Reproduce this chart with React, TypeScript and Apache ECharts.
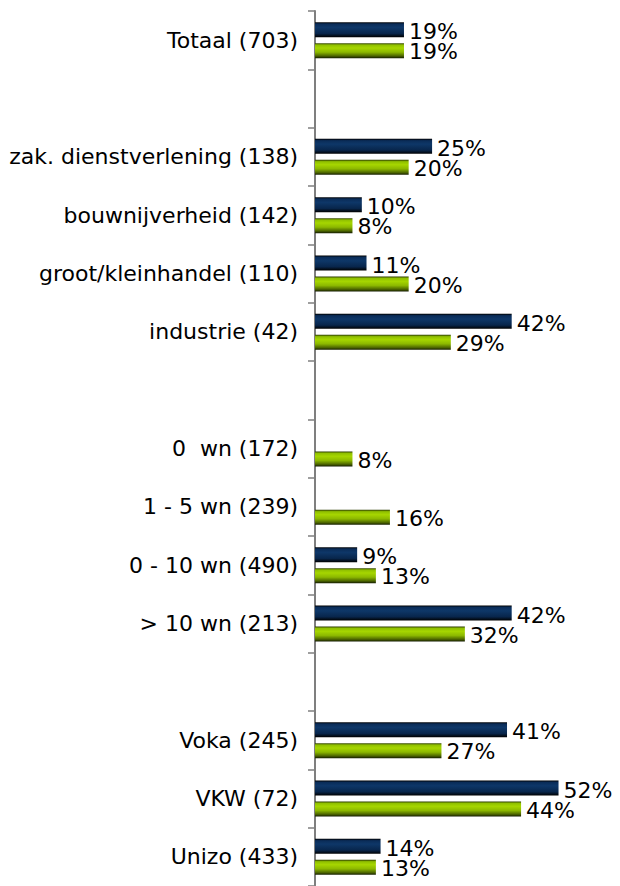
import React, { useEffect, useRef } from "react";
import * as echarts from "echarts";

const categories = [
  "Totaal (703)",
  "",
  "zak. dienstverlening (138)",
  "bouwnijverheid (142)",
  "groot/kleinhandel (110)",
  "industrie (42)",
  "",
  "0  wn (172)",
  "1 - 5 wn (239)",
  "0 - 10 wn (490)",
  "> 10 wn (213)",
  "",
  "Voka (245)",
  "VKW (72)",
  "Unizo (433)",
];

const blueValues: (number | null)[] = [19, null, 25, 10, 11, 42, null, null, null, 9, 42, null, 41, 52, 14];
const greenValues: (number | null)[] = [19, null, 20, 8, 20, 29, null, 8, 16, 13, 32, null, 27, 44, 13];

const FONT = "DejaVu Sans";

export default function App() {
  const ref = useRef<HTMLDivElement>(null);
  useEffect(() => {
    document.body.style.margin = "0";
    const chart = echarts.init(ref.current!, null, { renderer: "svg" });
    const blueGrad = new echarts.graphic.LinearGradient(0, 0, 0, 1, [
      { offset: 0, color: "#000000" },
      { offset: 0.12, color: "#0a2c58" },
      { offset: 0.35, color: "#0e3768" },
      { offset: 0.75, color: "#08264c" },
      { offset: 1, color: "#000000" },
    ]);
    const greenGrad = new echarts.graphic.LinearGradient(0, 0, 0, 1, [
      { offset: 0, color: "#2b3b00" },
      { offset: 0.12, color: "#8fbf00" },
      { offset: 0.32, color: "#a6d600" },
      { offset: 0.6, color: "#8cb800" },
      { offset: 0.85, color: "#4d6600" },
      { offset: 1, color: "#141c00" },
    ]);
    const labelStyle = {
      show: true,
      position: "right" as const,
      distance: 5,
      color: "#000",
      fontFamily: FONT,
      fontSize: 22,
      formatter: (p: any) => (p.value == null ? "" : p.value + "%"),
    };
    chart.setOption({
      animation: false,
      backgroundColor: "#fff",
      grid: { left: 315, right: 24, top: 11, height: 879, containLabel: false },
      xAxis: {
        type: "value",
        min: 0,
        max: 60,
        show: false,
      },
      yAxis: {
        type: "category",
        inverse: true,
        data: categories,
        axisLine: { show: true, lineStyle: { color: "#7f7f7f", width: 2 } },
        axisTick: { show: true, length: 7, interval: 0, lineStyle: { color: "#7f7f7f", width: 1.5 } },
        axisLabel: {
          interval: 0,
          margin: 17,
          color: "#000",
          fontFamily: FONT,
          fontSize: 22,
          padding: [7, 0, 0, 0],
        },
        splitLine: { show: false },
      },
      series: [
        {
          type: "bar",
          data: blueValues,
          barWidth: 15,
          barGap: "40%",
          itemStyle: { color: blueGrad },
          label: { ...labelStyle, offset: [0, 2] },
        },
        {
          type: "bar",
          data: greenValues,
          barWidth: 15,
          itemStyle: { color: greenGrad },
          label: { ...labelStyle, offset: [0, 1] },
        },
      ],
    });
    return () => chart.dispose();
  }, []);
  return <div ref={ref} style={{ width: 620, height: 886 }} />;
}
